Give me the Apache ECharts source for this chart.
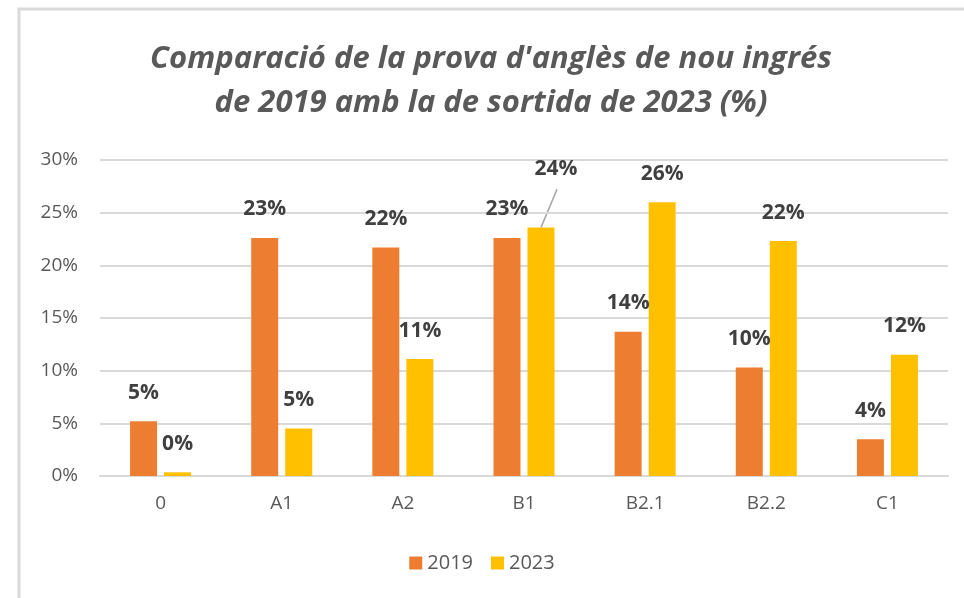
<!DOCTYPE html>
<html>
<head>
<meta charset="utf-8">
<script src="https://cdn.jsdelivr.net/npm/echarts@6/dist/echarts.min.js"></script>
<style>
  html, body { margin: 0; padding: 0; background: #fff; }
  #chart { width: 964px; height: 598px; }
</style>
</head>
<body>
<div id="chart"></div>
<script>
// nivells del MCER
var categories = ['0', 'A1', 'A2', 'B1', 'B2.1', 'B2.2', 'C1'];
var values2019 = [5.2, 22.6, 21.7, 22.6, 13.7, 10.3, 3.5];
var values2023 = [0.35, 4.5, 11.1, 23.6, 26.0, 22.3, 11.5];
var yTicks = [0, 5, 10, 15, 20, 25, 30];

var font = '"Open Sans", sans-serif';
var myChart = echarts.init(document.getElementById('chart'));

var labelStyle = {
    show: true,
    position: 'top',
    distance: 18,
    fontFamily: font,
    fontSize: 21,
    fontWeight: 'bold',
    color: '#404040',
    formatter: function (p) {
        return Math.round(p.value) + '%';
    }
};

var option = {
    backgroundColor: '#fff',
    animation: false,
    title: {
        text: "Comparació de la prova d'anglès de nou ingrés\nde 2019 amb la de sortida de 2023 (%)",
        left: 486,
        top: 32,
        textAlign: 'center',
        textStyle: {
            fontFamily: font,
            fontSize: 31,
            fontStyle: 'italic',
            fontWeight: 'bold',
            color: '#595959',
            lineHeight: 44
        }
    },
    legend: {
        data: ['2019', '2023'],
        bottom: 20,
        left: 'center',
        itemWidth: 13,
        itemHeight: 13,
        itemGap: 18,
        icon: 'rect',
        textStyle: {
            fontFamily: font,
            fontSize: 20,
            color: '#595959'
        }
    },
    grid: {
        left: 100,
        right: 16,
        top: 160,
        bottom: 122,
        containLabel: false
    },
    xAxis: {
        type: 'category',
        data: categories,
        axisTick: { show: false },
        axisLine: { lineStyle: { color: '#d9d9d9', width: 2 } },
        axisLabel: {
            margin: 18,
            fontFamily: font,
            fontSize: 19,
            color: '#595959'
        }
    },
    yAxis: {
        type: 'value',
        min: yTicks[0],
        max: yTicks[yTicks.length - 1],
        interval: 5,
        axisLine: { show: false },
        axisTick: { show: false },
        splitLine: { lineStyle: { color: '#d9d9d9', width: 2 } },
        axisLabel: {
            margin: 22,
            fontFamily: font,
            fontSize: 19,
            color: '#595959',
            formatter: '{value}%'
        }
    },
    series: [{
        name: '2019',
        type: 'bar',
        data: values2019,
        barWidth: 27,
        barGap: '26%',
        itemStyle: { color: '#ed7d31' },
        label: labelStyle
    }, {
        name: '2023',
        type: 'bar',
        data: values2023,
        barWidth: 27,
        itemStyle: { color: '#ffc000' },
        label: labelStyle,
        labelLayout: function (p) {
            // l'etiqueta de B1 2023 es desplaça
            if (p.dataIndex === 3) {
                return { dx: 15, dy: -30 };
            }
            return {};
        }
    }],
    graphic: [{
        type: 'polyline',
        shape: { points: [[19, 598], [19, 9], [964, 9]] },
        style: { stroke: '#d9d9d9', lineWidth: 3, fill: null },
        silent: true
    }]
};

myChart.setOption(option);

// línia guia cap a l'etiqueta desplaçada, a partir del dibuix de la barra
var lay = myChart.getModel().getSeriesByIndex(1).getData().getItemLayout(3);
if (lay) {
    var bx = lay.x + lay.width / 2;
    var by = lay.y + Math.min(lay.height, 0);
    myChart.setOption({
        graphic: [{
            type: 'polyline',
            shape: { points: [[19, 598], [19, 9], [964, 9]] },
            style: { stroke: '#d9d9d9', lineWidth: 3, fill: null },
            silent: true
        }, {
            type: 'line',
            shape: { x1: bx, y1: by, x2: bx + 16, y2: by - 38 },
            style: { stroke: '#a6a6a6', lineWidth: 1.5 },
            silent: true
        }]
    });
}
</script>
</body>
</html>
